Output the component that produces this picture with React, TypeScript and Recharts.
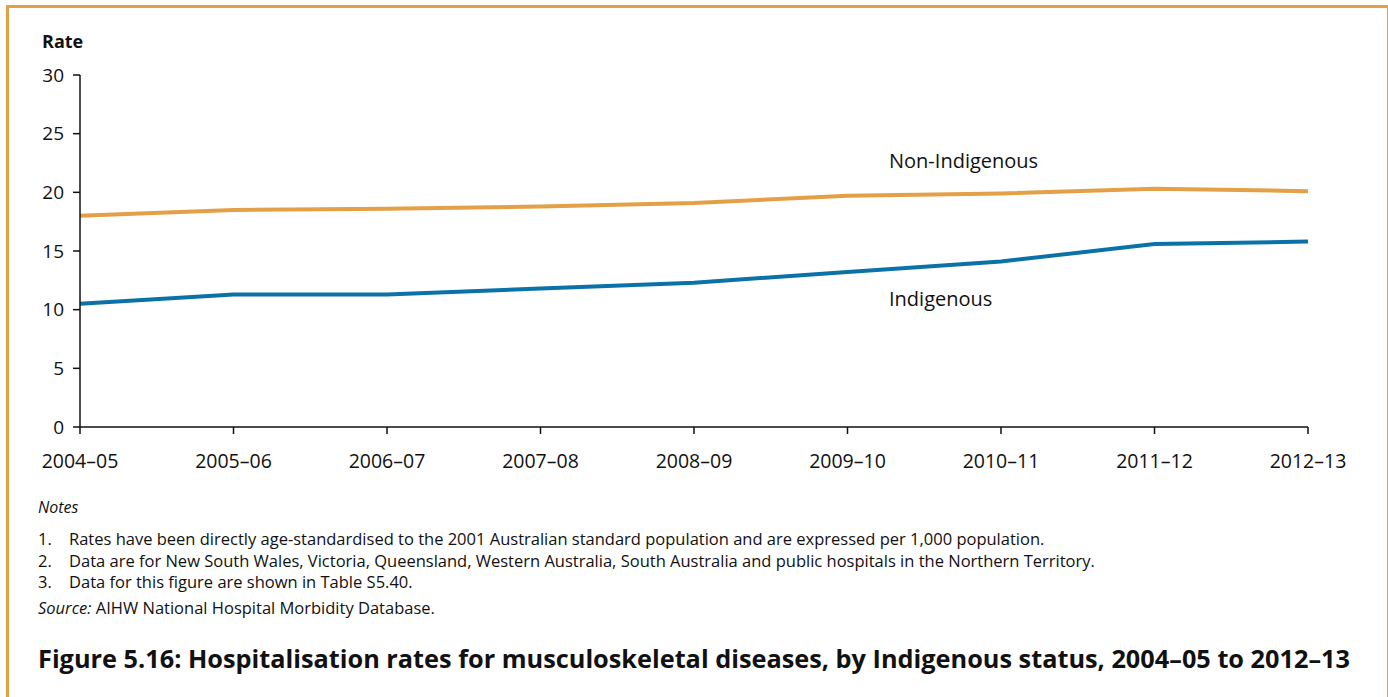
import { CartesianGrid, Line, LineChart, XAxis, YAxis } from "recharts";

const years = ["2004–05", "2005–06", "2006–07", "2007–08", "2008–09", "2009–10", "2010–11", "2011–12", "2012–13"];
const nonIndigenous = [18.0, 18.5, 18.6, 18.8, 19.1, 19.7, 19.9, 20.3, 20.1];
const indigenous = [10.5, 11.3, 11.3, 11.8, 12.3, 13.2, 14.1, 15.6, 15.8];
const yTicks = [0, 5, 10, 15, 20, 25, 30];

const notes = [
  "Rates have been directly age-standardised to the 2001 Australian standard population and are expressed per 1,000 population.",
  "Data are for New South Wales, Victoria, Queensland, Western Australia, South Australia and public hospitals in the Northern Territory.",
  "Data for this figure are shown in Table S5.40.",
];

const data = years.map((year, i) => ({
  year,
  nonIndigenous: nonIndigenous[i],
  indigenous: indigenous[i],
}));

const FONT = "'Open Sans', 'Noto Sans', sans-serif";
const ORANGE = "#E4A046";
const BLUE = "#0A72A6";

export default function App() {
  return (
    <div style={{ position: "absolute", left: 0, top: 0, width: 1388, height: 697, background: "#fff", fontFamily: FONT, color: "#111" }}>
      {/* frame */}
      <div style={{ position: "absolute", left: 6, top: 5, width: 1378, height: 700, borderTop: `3px solid ${ORANGE}`, borderLeft: `3px solid ${ORANGE}`, borderRight: `2px solid ${ORANGE}` }} />

      <div style={{ position: "absolute", left: 42, top: 29, fontSize: 18, fontWeight: 700 }}>Rate</div>

      <div style={{ position: "absolute", left: 0, top: 0 }}>
        <LineChart width={1388} height={480} data={data} margin={{ top: 75, right: 80, left: 20, bottom: 13 }}>
          <CartesianGrid stroke="none" />
          <XAxis
            dataKey="year"
            height={40}
            interval={0}
            tickSize={7}
            tickMargin={20}
            axisLine={{ stroke: "#111", strokeWidth: 1.5 }}
            tickLine={{ stroke: "#111", strokeWidth: 1.5 }}
            tick={{ fill: "#111", fontSize: 19.5, fontFamily: FONT }}
            padding={{ left: 0, right: 0 }}
          />
          <YAxis
            width={60}
            domain={[0, 30]}
            ticks={yTicks}
            tickSize={7}
            tickMargin={9}
            axisLine={{ stroke: "#111", strokeWidth: 1.5 }}
            tickLine={{ stroke: "#111", strokeWidth: 1.5 }}
            tick={{ fill: "#111", fontSize: 19, fontFamily: FONT }}
          />
          <Line dataKey="nonIndigenous" stroke={ORANGE} strokeWidth={4} dot={false} isAnimationActive={false} type="linear" />
          <Line dataKey="indigenous" stroke={BLUE} strokeWidth={4} dot={false} isAnimationActive={false} type="linear" />
        </LineChart>
      </div>

      <div style={{ position: "absolute", left: 889, top: 147, fontSize: 20 }}>Non-Indigenous</div>
      <div style={{ position: "absolute", left: 889, top: 285, fontSize: 20 }}>Indigenous</div>

      <div style={{ position: "absolute", left: 38, top: 496, fontSize: 16, fontStyle: "italic" }}>Notes</div>
      {notes.map((n, i) => (
        <div key={i} style={{ position: "absolute", left: 38, top: 527 + i * 21.5, fontSize: 16.5, whiteSpace: "nowrap" }}>
          <span style={{ display: "inline-block", width: 31 }}>{i + 1}.</span>
          {n}
        </div>
      ))}
      <div style={{ position: "absolute", left: 38, top: 596, fontSize: 16.5, whiteSpace: "nowrap" }}>
        <i>Source:</i> AIHW National Hospital Morbidity Database.
      </div>

      <div style={{ position: "absolute", left: 38, top: 641, fontSize: 25.3, fontWeight: 700, whiteSpace: "nowrap" }}>
        Figure 5.16: Hospitalisation rates for musculoskeletal diseases, by Indigenous status, 2004–05 to 2012–13
      </div>
    </div>
  );
}
